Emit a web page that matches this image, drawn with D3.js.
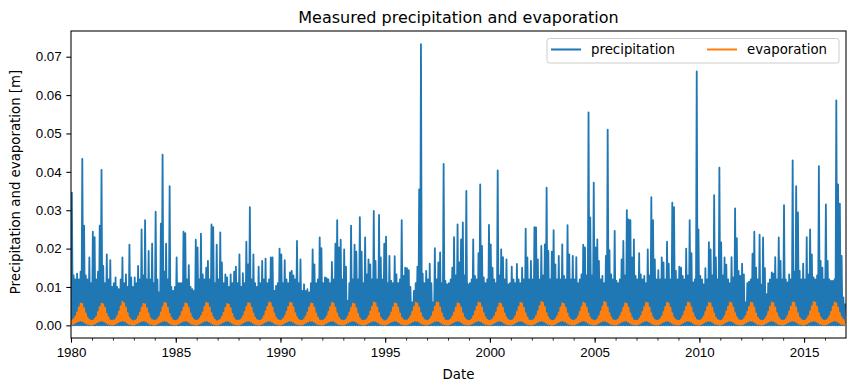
<!DOCTYPE html>
<html lang="en">
<head>
    <meta charset="UTF-8">
    <title>Measured precipitation and evaporation</title>
    <script src="https://d3js.org/d3.v7.min.js"></script>
    <style>
        body { margin: 0; background: #fff; }
        svg { display: block; font-family: "DejaVu Sans", sans-serif; }
        .axis text { font-size: 13.33px; fill: #000; }
        .axis path, .axis line { stroke: #000; stroke-width: 1.07px; }
        .axis.minor line { stroke-width: 0.8px; }
    </style>
</head>
<body>
<div id="chart"></div>
<script>
    // monthly peak precipitation, in mm (Jan 1980 onward)
    const precip1980s = [
        34.6, 13, 12, 13.5, 12, 14, 43.4, 26, 13, 12, 17.7, 11,
        24.4, 23, 12, 14, 26, 40.5, 15.5, 11, 18.5, 12, 17, 10,
        11, 12.5, 10, 9.4, 12, 17.7, 11, 13.3, 10, 21, 12.5, 10,
        12.5, 11, 15.5, 12, 25, 13, 27.4, 12, 19.4, 12, 21.3, 11,
        29.6, 12, 8.6, 26.5, 44.5, 14, 21.3, 12, 36.3, 10, 9, 10,
        17.7, 11, 11, 11, 24.4, 24, 12, 15.7, 10, 9.4, 9, 22.3,
        20.3, 12, 23.9, 13.3, 12, 15, 16.8, 12, 26.3, 25.6, 11, 21,
        12, 24.2, 16.4, 11, 13.3, 12.5, 10, 13.3, 11, 14, 15.3, 11,
        18.5, 10, 13.6, 11, 21.8, 15.9, 30.8, 12, 18.5, 11, 10, 15.3,
        11, 16.8, 12, 17.4, 11, 12, 17.7, 17.7, 9, 10.3, 11, 20
    ];
    const precip1990s = [
        18.5, 11, 17, 12, 11, 13.8, 14.2, 13, 12, 22, 11, 17.2,
        9, 10.7, 9, 9.4, 8.6, 11, 19.8, 15.9, 11, 12, 22.9, 20.1,
        11, 12.5, 12.3, 12, 11, 16.5, 12, 21.3, 27.4, 20.3, 22.3, 12,
        19.8, 15.3, 6.4, 11, 26, 12, 21, 19.2, 12, 28.2, 19.2, 11,
        22.9, 13.3, 17.2, 15.9, 12, 29.8, 16.8, 12, 28.8, 17.7, 12, 21.3,
        23.1, 11, 18.1, 11.6, 11, 18, 13.3, 11, 12, 27.4, 12.9, 15,
        14.9, 14.4, 10, 6, 9, 11, 15.3, 35.4, 73.3, 13.5, 11, 14.2,
        12, 16.1, 11, 6, 20.1, 12, 16.4, 19, 11, 42.1, 11.6, 10.7,
        11, 12, 15, 23, 13, 26.3, 16.4, 22.4, 26.8, 13, 35, 10.7,
        11, 12, 22.4, 12.9, 12, 18.8, 36.7, 20.7, 12.5, 11, 12, 26.2
    ];
    const precip2000s = [
        21.1, 15, 12, 11, 40.4, 13, 19.8, 17.8, 12, 17.2, 10.7, 11,
        15.3, 12, 11, 16, 12, 11, 15, 12, 25.2, 17.7, 12, 16.8,
        12, 25.6, 25.5, 17.2, 12, 20.7, 13, 21.1, 35.9, 19.4, 12, 19.2,
        24.8, 15.9, 12, 18.1, 12, 21.1, 12.9, 12, 26.1, 18.5, 12, 18.1,
        12, 17.8, 11, 12, 13.3, 21, 20.3, 13, 55.5, 28.1, 13, 37.2,
        20.3, 22.4, 16.8, 12, 12.9, 11, 18.1, 51, 19.6, 13.3, 12, 24.6,
        11.6, 11, 12, 17.2, 22, 13, 30, 27.6, 27.4, 17.7, 22.4, 12.9,
        12, 18.8, 13.3, 12, 12.9, 11, 19.8, 13, 33.4, 27.4, 17.2, 12,
        14.4, 12, 17.7, 16.4, 12, 21.8, 16.1, 12, 32, 30.8, 14.2, 12,
        15.3, 15, 12.9, 12, 20, 13, 27.4, 18.8, 11.2, 12, 66.2, 25
    ];
    const precip2010s = [
        12.9, 12, 10.7, 14.9, 12, 21.7, 19.8, 13, 33.9, 17.7, 12, 41.1,
        21.6, 13, 17.7, 15.8, 12, 11, 17.8, 12.5, 30.5, 22.7, 14.2, 12.9,
        16.1, 13.3, 6, 11, 11.4, 12, 18.7, 24.4, 15, 12, 23.6, 10.6,
        22.9, 14.9, 8.1, 11, 12, 13.8, 13.5, 17.8, 12, 22.9, 16.8, 12,
        31.3, 12, 11.2, 13.3, 12, 43, 14, 36.3, 29.4, 14.2, 12, 16.1,
        12, 23, 13.3, 25, 18.5, 12.5, 12, 13, 41.5, 16.8, 15, 12,
        31.5, 16.8, 12, 11.6, 11.6, 12, 58.6, 36.7, 31.7, 18.1, 7.3, 5.7
    ];

    // monthly peak evaporation, in mm
    const evap1980s = [
        1.3, 1.6, 2.3, 3.4, 4.7, 5.7, 5.6, 4.5, 3.1, 2.0, 1.4, 1.2,
        1.2, 1.7, 2.2, 3.5, 4.8, 5.7, 5.5, 4.6, 3.0, 2.1, 1.3, 1.2,
        1.3, 1.6, 2.4, 3.6, 5.0, 6.2, 5.8, 4.7, 3.2, 2.0, 1.4, 1.1,
        1.2, 1.5, 2.3, 3.3, 4.6, 5.6, 5.5, 4.5, 3.1, 1.9, 1.4, 1.2,
        1.3, 1.6, 2.2, 3.4, 4.8, 5.9, 5.7, 4.6, 3.0, 2.0, 1.3, 1.2,
        1.2, 1.6, 2.3, 3.5, 4.7, 5.8, 5.6, 4.6, 3.1, 2.0, 1.4, 1.2,
        1.3, 1.7, 2.4, 3.4, 4.8, 5.9, 5.7, 4.7, 3.2, 2.1, 1.4, 1.1,
        1.2, 1.5, 2.2, 3.3, 4.6, 5.6, 5.4, 4.5, 3.0, 1.9, 1.3, 1.2,
        1.3, 1.6, 2.3, 3.5, 4.8, 5.8, 5.7, 4.6, 3.1, 2.0, 1.4, 1.2,
        1.2, 1.6, 2.4, 3.6, 4.9, 6.0, 5.8, 4.7, 3.1, 2.0, 1.4, 1.2
    ];
    const evap1990s = [
        1.3, 1.7, 2.4, 3.5, 4.8, 5.9, 5.8, 4.7, 3.2, 2.1, 1.4, 1.2,
        1.2, 1.6, 2.3, 3.4, 4.7, 5.7, 5.6, 4.6, 3.1, 2.0, 1.3, 1.2,
        1.3, 1.6, 2.3, 3.5, 4.8, 5.9, 5.7, 4.6, 3.1, 2.0, 1.4, 1.2,
        1.2, 1.5, 2.2, 3.4, 4.6, 5.7, 5.5, 4.5, 3.0, 1.9, 1.3, 1.2,
        1.3, 1.6, 2.4, 3.6, 4.9, 6.0, 5.8, 4.7, 3.2, 2.0, 1.4, 1.1,
        1.2, 1.6, 2.3, 3.4, 4.7, 5.8, 5.6, 4.6, 3.1, 2.0, 1.4, 1.2,
        1.3, 1.7, 2.4, 3.5, 4.8, 5.9, 5.7, 4.7, 3.2, 2.1, 1.4, 1.2,
        1.2, 1.6, 2.3, 3.5, 4.9, 6.0, 5.9, 4.7, 3.1, 2.0, 1.3, 1.2,
        1.3, 1.6, 2.3, 3.4, 4.7, 5.8, 5.6, 4.6, 3.1, 2.0, 1.4, 1.2,
        1.2, 1.6, 2.4, 3.6, 4.9, 6.0, 5.8, 4.7, 3.2, 2.1, 1.4, 1.2
    ];
    const evap2000s = [
        1.3, 1.6, 2.3, 3.4, 4.7, 5.8, 5.6, 4.6, 3.1, 2.0, 1.4, 1.2,
        1.2, 1.6, 2.3, 3.5, 4.8, 5.9, 5.7, 4.6, 3.1, 2.0, 1.3, 1.2,
        1.3, 1.7, 2.4, 3.6, 5.0, 6.1, 5.9, 4.8, 3.2, 2.1, 1.4, 1.2,
        1.2, 1.6, 2.3, 3.4, 4.7, 5.8, 5.6, 4.6, 3.1, 2.0, 1.4, 1.2,
        1.3, 1.6, 2.3, 3.5, 4.8, 5.9, 5.7, 4.7, 3.1, 2.0, 1.4, 1.2,
        1.2, 1.6, 2.4, 3.6, 4.9, 6.1, 5.9, 4.7, 3.2, 2.1, 1.4, 1.2,
        1.3, 1.6, 2.3, 3.4, 4.7, 5.8, 5.6, 4.6, 3.1, 2.0, 1.3, 1.2,
        1.2, 1.7, 2.4, 3.5, 4.8, 5.9, 5.8, 4.7, 3.2, 2.0, 1.4, 1.2,
        1.3, 1.6, 2.3, 3.5, 4.8, 5.9, 5.7, 4.6, 3.1, 2.0, 1.4, 1.2,
        1.2, 1.6, 2.4, 3.6, 4.9, 6.0, 5.8, 4.7, 3.2, 2.1, 1.4, 1.2
    ];
    const evap2010s = [
        1.3, 1.6, 2.3, 3.5, 4.8, 5.9, 5.7, 4.6, 3.1, 2.0, 1.4, 1.2,
        1.2, 1.6, 2.4, 3.6, 4.9, 6.0, 5.8, 4.7, 3.2, 2.1, 1.4, 1.2,
        1.3, 1.7, 2.4, 3.5, 4.8, 5.9, 5.8, 4.7, 3.1, 2.0, 1.4, 1.2,
        1.2, 1.6, 2.3, 3.5, 4.9, 6.0, 5.8, 4.7, 3.2, 2.1, 1.4, 1.2,
        1.3, 1.6, 2.4, 3.6, 4.9, 6.0, 5.9, 4.7, 3.2, 2.0, 1.4, 1.2,
        1.2, 1.7, 2.4, 3.6, 5.0, 6.1, 5.9, 4.8, 3.2, 2.1, 1.4, 1.2,
        1.3, 1.6, 2.4, 3.5, 4.9, 6.0, 5.8, 4.7, 3.2, 2.1, 1.4, 1.2
    ];
    // daily minimum evaporation by calendar month (identical each year in the picture), mm
    const evapLowByMonth = [0.2, 0.3, 0.5, 0.8, 1.0, 1.2, 1.2, 1.0, 0.7, 0.4, 0.3, 0.2];

    const yTicks = [0, 0.01, 0.02, 0.03, 0.04, 0.05, 0.06, 0.07];
    const majorYears = [1980, 1985, 1990, 1995, 2000, 2005, 2010, 2015];
    const seriesNames = ['precipitation', 'evaporation'];
    const colors = ['#1f77b4', '#ff7f0e'];

    const W = 855, H = 392;
    const svg = d3.select('#chart').append('svg').attr('width', W).attr('height', H);

    const x = d3.scaleUtc()
        .domain([new Date(Date.UTC(1980, 0, 1)), new Date(Date.UTC(2017, 0, 1))])
        .range([71, 846]);
    const y = d3.scaleLinear().domain([-0.0033, 0.0767]).range([338, 31]);

    const precip = [].concat(precip1980s, precip1990s, precip2000s, precip2010s);
    const evap = [].concat(evap1980s, evap1990s, evap2000s, evap2010s);

    // each month: a low point at its start, then the peak mid-month
    function monthPoints(highs, lowFn) {
        const pts = [];
        highs.forEach((v, i) => {
            pts.push([new Date(Date.UTC(1980, i, 1)), lowFn(i) / 1000]);
            pts.push([new Date(Date.UTC(1980, i, 16)), v / 1000]);
        });
        return pts;
    }
    const precipPts = monthPoints(precip, () => 0);
    const evapPts = monthPoints(evap, i => evapLowByMonth[i % 12]);

    svg.append('clipPath').attr('id', 'clip')
        .append('rect').attr('x', 71).attr('y', 31).attr('width', 775).attr('height', 307);

    const line = d3.line().x(d => x(d[0])).y(d => y(d[1]));
    const plot = svg.append('g').attr('clip-path', 'url(#clip)');
    [precipPts, evapPts].forEach((pts, k) => {
        plot.append('path')
            .datum(pts)
            .attr('d', line)
            .attr('fill', 'none')
            .attr('stroke', colors[k])
            .attr('stroke-width', 1.8)
            .attr('stroke-linejoin', 'round');
    });

    // axes
    svg.append('g').attr('class', 'axis')
        .attr('transform', 'translate(71,0)')
        .call(d3.axisLeft(y).tickValues(yTicks).tickFormat(d3.format('.2f')).tickSize(4.67).tickPadding(4.67))
        .call(g => g.select('.domain').remove());

    svg.append('g').attr('class', 'axis minor')
        .attr('transform', 'translate(0,338)')
        .call(d3.axisBottom(x).tickValues(d3.range(1980, 2017).map(yr => new Date(Date.UTC(yr, 0, 1))))
            .tickFormat('').tickSize(2.67))
        .call(g => g.select('.domain').remove());

    svg.append('g').attr('class', 'axis')
        .attr('transform', 'translate(0,338)')
        .call(d3.axisBottom(x).tickValues(majorYears.map(yr => new Date(Date.UTC(yr, 0, 1))))
            .tickFormat(d3.utcFormat('%Y')).tickSize(4.67).tickPadding(4.67))
        .call(g => g.select('.domain').remove());

    // frame
    svg.append('rect')
        .attr('x', 71).attr('y', 31).attr('width', 775).attr('height', 307)
        .attr('fill', 'none').attr('stroke', '#000').attr('stroke-width', 1.07);

    // labels
    svg.append('text').attr('x', 458.5).attr('y', 23).attr('text-anchor', 'middle')
        .style('font-size', '16px').text('Measured precipitation and evaporation');
    svg.append('text').attr('x', 458.5).attr('y', 379).attr('text-anchor', 'middle')
        .style('font-size', '13.33px').text('Date');
    svg.append('text').attr('transform', 'translate(20,182) rotate(-90)').attr('text-anchor', 'middle')
        .style('font-size', '13.33px').text('Precipitation and evaporation [m]');

    // legend
    const legend = svg.append('g');
    legend.append('rect')
        .attr('x', 547).attr('y', 38.5).attr('width', 292).attr('height', 24.5).attr('rx', 2.5)
        .attr('fill', '#fff').attr('fill-opacity', 0.8).attr('stroke', '#ccc').attr('stroke-width', 1);
    const legendX = [551, 707];
    seriesNames.forEach((name, k) => {
        legend.append('line')
            .attr('x1', legendX[k]).attr('x2', legendX[k] + 30).attr('y1', 49.5).attr('y2', 49.5)
            .attr('stroke', colors[k]).attr('stroke-width', 2);
        legend.append('text')
            .attr('x', legendX[k] + 40).attr('y', 54)
            .style('font-size', '13.33px').text(name);
    });
</script>
</body>
</html>
